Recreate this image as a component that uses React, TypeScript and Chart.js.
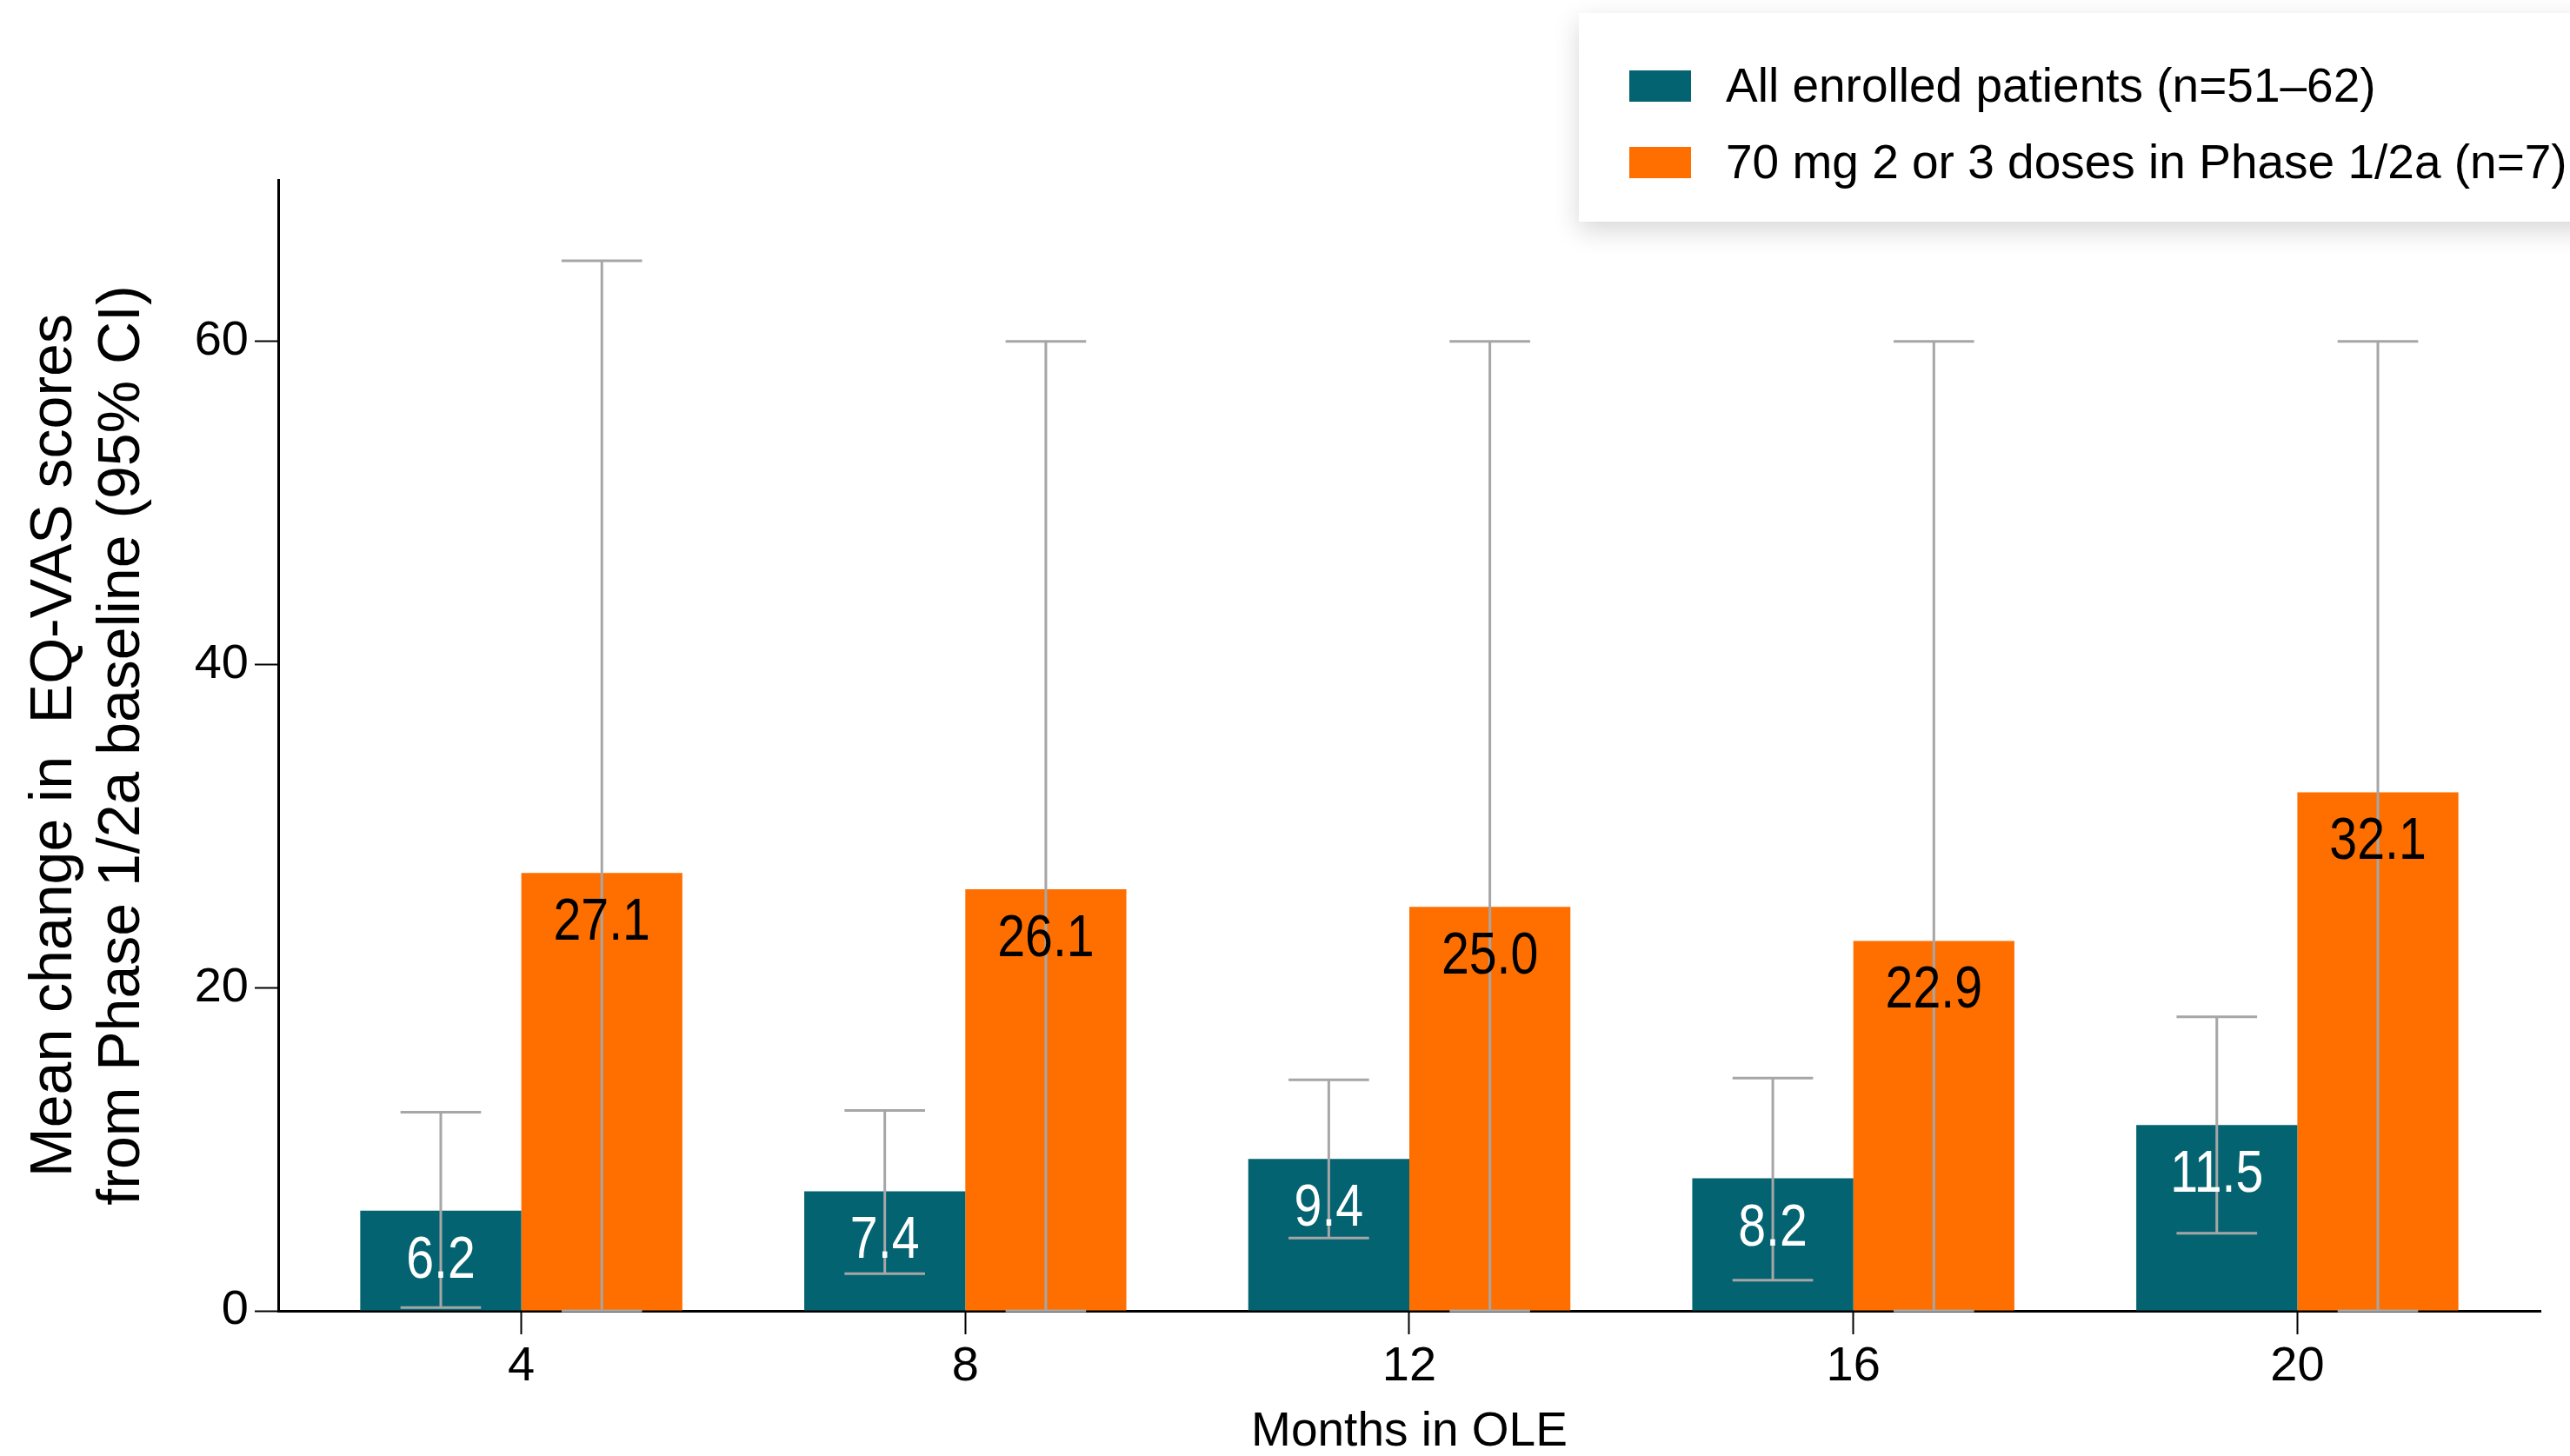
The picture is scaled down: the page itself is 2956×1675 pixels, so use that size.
import React, { useEffect, useRef } from 'react';
import { Chart, registerables } from 'chart.js';

Chart.register(...registerables);

// ---- data ----
const months = [4, 8, 12, 16, 20];
const seriesLabels = ['All enrolled patients (n=51–62)', '70 mg 2 or 3 doses in Phase 1/2a (n=7)'];
const allEnrolled = [6.2, 7.4, 9.4, 8.2, 11.5];
const dose70mg = [27.1, 26.1, 25.0, 22.9, 32.1];
const allEnrolledLow = [0.2, 2.3, 4.5, 1.9, 4.8];
const allEnrolledHigh = [12.3, 12.4, 14.3, 14.4, 18.2];
const dose70mgLow = [0, 0, 0, 0, 0];
const dose70mgHigh = [65, 60, 60, 60, 60];
const yTickValues = [0, 20, 40, 60];
const yTitle = ['Mean change in  EQ-VAS scores', 'from Phase 1/2a baseline (95% CI)'];
const xTitle = 'Months in OLE';

const TEAL = '#046371';
const ORANGE = '#FF6F00';
const ERR = '#A6A6A6';
const FAMILY = '"Liberation Sans", Arial, Helvetica, sans-serif';

const errorLows = [allEnrolledLow, dose70mgLow];
const errorHighs = [allEnrolledHigh, dose70mgHigh];
const labelColors = ['#FFFFFF', '#000000'];

const errorAndLabels = {
  id: 'errorAndLabels',
  afterDatasetsDraw(chart: any) {
    const ctx = chart.ctx as CanvasRenderingContext2D;
    const yScale = chart.scales.y;
    ctx.save();
    ctx.strokeStyle = ERR;
    ctx.lineWidth = 3;
    chart.data.datasets.forEach((_ds: any, di: number) => {
      const meta = chart.getDatasetMeta(di);
      meta.data.forEach((bar: any, i: number) => {
        const x = bar.x;
        const half = bar.width * 0.25;
        const yl = yScale.getPixelForValue(errorLows[di][i]);
        const yh = yScale.getPixelForValue(errorHighs[di][i]);
        ctx.beginPath();
        ctx.moveTo(x, yl);
        ctx.lineTo(x, yh);
        ctx.moveTo(x - half, yl);
        ctx.lineTo(x + half, yl);
        ctx.moveTo(x - half, yh);
        ctx.lineTo(x + half, yh);
        ctx.stroke();
      });
    });
    // value labels
    ctx.font = `69px ${FAMILY}`;
    ctx.textAlign = 'center';
    ctx.textBaseline = 'alphabetic';
    chart.data.datasets.forEach((ds: any, di: number) => {
      const meta = chart.getDatasetMeta(di);
      ctx.fillStyle = labelColors[di];
      meta.data.forEach((bar: any, i: number) => {
        const v = ds.data[i].y as number;
        ctx.save();
        ctx.translate(bar.x, bar.y + 77);
        ctx.scale(0.83, 1);
        ctx.fillText(v.toFixed(1), 0, 0);
        ctx.restore();
      });
    });
    ctx.restore();
  },
};

const boxLegend = {
  id: 'boxLegend',
  afterDraw(chart: any) {
    const ctx = chart.ctx as CanvasRenderingContext2D;
    ctx.save();
    ctx.shadowColor = 'rgba(0,0,0,0.16)';
    ctx.shadowBlur = 28;
    ctx.shadowOffsetY = 10;
    ctx.fillStyle = '#FFFFFF';
    ctx.fillRect(1816, 15, 1300, 240);
    ctx.restore();
    ctx.save();
    ctx.font = `55px ${FAMILY}`;
    ctx.textAlign = 'left';
    ctx.textBaseline = 'alphabetic';
    chart.data.datasets.forEach((ds: any, di: number) => {
      const y0 = 81 + di * 88;
      ctx.fillStyle = ds.backgroundColor;
      ctx.fillRect(1874, y0, 71, 36);
      ctx.fillStyle = '#000000';
      ctx.fillText(ds.label, 1985, y0 + 36);
    });
    ctx.restore();
  },
};

export default function App() {
  const ref = useRef<HTMLCanvasElement>(null);
  useEffect(() => {
    document.body.style.margin = '0';
    document.body.style.overflow = 'hidden';
    Chart.defaults.font.family = FAMILY;
    const chart = new Chart(ref.current as HTMLCanvasElement, {
      type: 'bar',
      data: {
        datasets: [
          {
            label: seriesLabels[0],
            data: months.map((m, i) => ({ x: m, y: allEnrolled[i] })),
            backgroundColor: TEAL,
            borderWidth: 0,
          },
          {
            label: seriesLabels[1],
            data: months.map((m, i) => ({ x: m, y: dose70mg[i] })),
            backgroundColor: ORANGE,
            borderWidth: 0,
          },
        ],
      },
      options: {
        responsive: false,
        animation: false,
        devicePixelRatio: 1,
        layout: { padding: { top: 207, right: 34, left: 0, bottom: 0 } },
        datasets: { bar: { categoryPercentage: 0.7255, barPercentage: 1 } },
        plugins: { legend: { display: false }, tooltip: { enabled: false } },
        scales: {
          x: {
            type: 'linear',
            min: 1.81,
            max: 22.19,
            offset: false,
            afterBuildTicks: (s: any) => {
              s.ticks = months.map((v) => ({ value: v }));
            },
            afterFit: (s: any) => {
              s.height = 167;
            },
            grid: {
              offset: false,
              drawOnChartArea: false,
              drawTicks: true,
              tickLength: 27,
              tickWidth: 2,
              tickColor: '#000',
              color: '#000',
            },
            border: { display: true, color: '#000', width: 3 },
            ticks: {
              color: '#000',
              font: { family: FAMILY, size: 56 },
              padding: 4,
              maxRotation: 0,
              autoSkip: false,
              callback: (v: any) => String(v),
            },
            title: {
              display: true,
              text: xTitle,
              color: '#000',
              font: { family: FAMILY, size: 55, lineHeight: 1 },
              padding: 0,
            },
          },
          y: {
            type: 'linear',
            min: 0,
            max: 70,
            afterBuildTicks: (s: any) => {
              s.ticks = yTickValues.map((v) => ({ value: v }));
            },
            afterFit: (s: any) => {
              s.width = 320;
            },
            grid: {
              drawOnChartArea: false,
              drawTicks: true,
              tickLength: 27,
              tickWidth: 2,
              tickColor: '#000',
              color: '#000',
            },
            border: { display: true, color: '#000', width: 3 },
            ticks: {
              color: '#000',
              font: { family: FAMILY, size: 56 },
              padding: 7,
              callback: (v: any) => String(v),
            },
            title: {
              display: true,
              text: yTitle,
              color: '#000',
              font: { family: FAMILY, size: 68, lineHeight: 1.15 },
              padding: { top: 24, bottom: 0 },
            },
          },
        },
      },
      plugins: [errorAndLabels, boxLegend],
    } as any);
    return () => chart.destroy();
  }, []);
  return (
    <div style={{ position: 'fixed', left: 0, top: 0, width: 2956, height: 1675, background: '#fff' }}>
      <canvas ref={ref} width={2956} height={1675} style={{ display: 'block', width: 2956, height: 1675 }} />
    </div>
  );
}
